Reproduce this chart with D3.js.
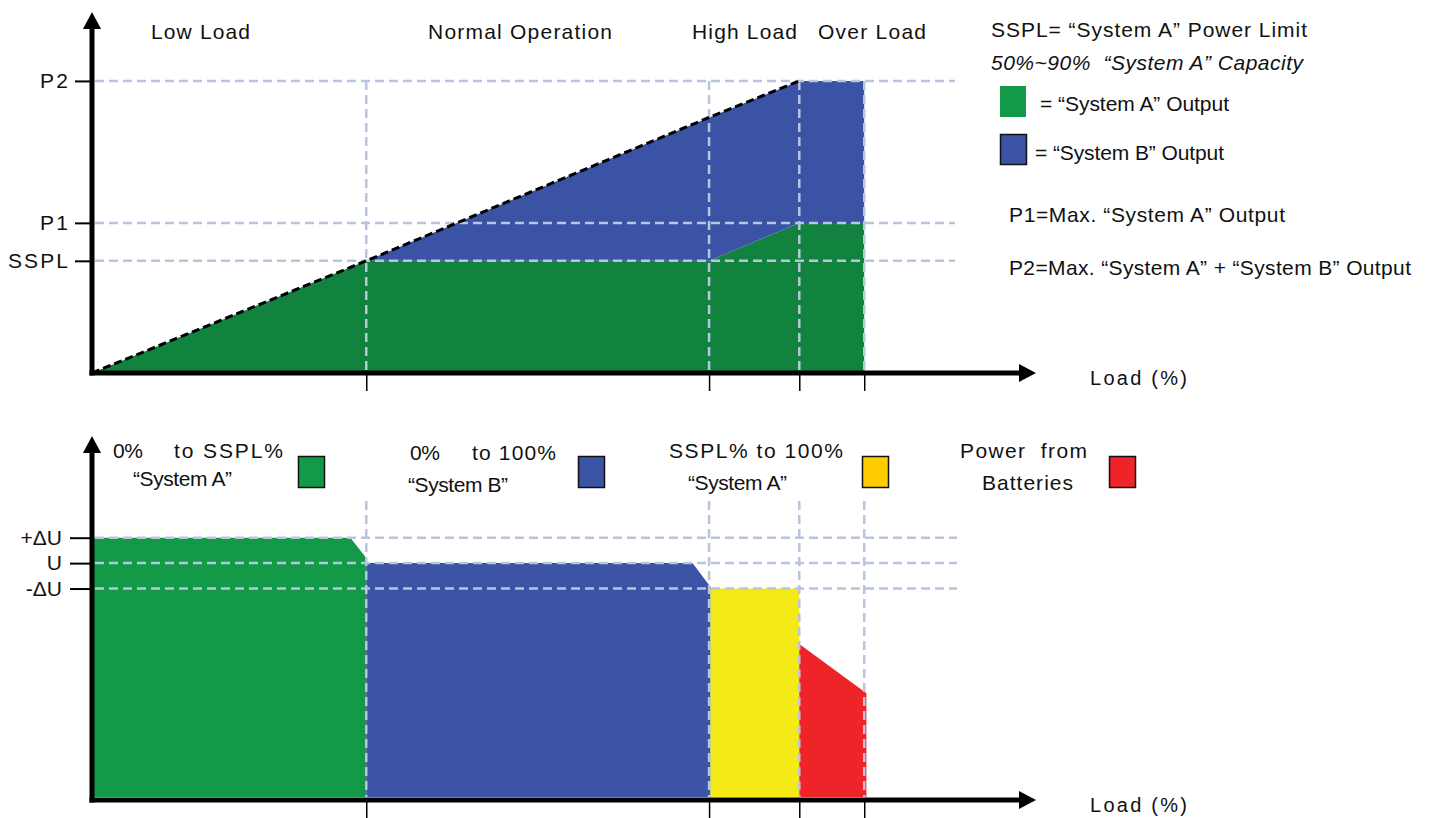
<!DOCTYPE html>
<html>
<head>
<meta charset="utf-8">
<script src="https://cdn.jsdelivr.net/npm/d3@7/dist/d3.min.js"></script>
<style>
  html, body { margin: 0; padding: 0; background: #fff; }
  svg { display: block; }
  text { font-family: "Liberation Sans", Arial, Helvetica, sans-serif; fill: #111; white-space: pre; }
</style>
</head>
<body>
<svg id="chart" width="1431" height="818"></svg>
<script>
// ---------------- DATA ----------------
// Load breakpoints (% load, arbitrary units along the x axis)
const loadBreaks   = [0, 38, 85.5, 98, 107];
// Upper chart: total demanded power and "System A" share
const totalDemand  = [0, 38.4, 87.5, 100, 100];
const systemAOut   = [0, 38.4, 38.4, 51.4, 51.4];
const powerTickVals   = [38.4, 51.4, 100];
const powerTickLabels = ["SSPL", "P1", "P2"];
const regionLabels = ["Low Load", "Normal Operation", "High Load", "Over Load"];

// Lower chart: output voltage per source
const voltSysALoad  = [0, 35.8, 38];      const voltSysA  = [105, 105, 101];
const voltSysBLoad  = [38, 83.2, 85.7];   const voltSysB  = [100, 100, 95.3];
const voltSysA2Load = [85.7, 98];         const voltSysA2 = [95, 95];
const voltBattLoad  = [98, 107.3];        const voltBatt  = [84.1, 74.4];
const voltTickVals   = [105, 100, 95];
const voltTickLabels = ["+\u0394U", "U", "-\u0394U"];

// ---------------- SETUP ----------------
const svg = d3.select("#chart");
const C = {
  gTop: "#11833f", bTop: "#3a53a4",
  gBot: "#139a48", bBot: "#3b54a5", yel: "#f5ea16", red: "#ee2428",
  yelBox: "#ffcc00", grid: "#b9c4df"
};

const x  = d3.scaleLinear().domain([0, 130.8]).range([92, 1036]);
const yT = d3.scaleLinear().domain([0, 123.6]).range([373, 12]);
const yB = d3.scaleLinear().domain([54, 125.2]).range([797, 435]);

function txt(g, xp, yp, s, w, opts = {}) {
  const t = g.append("text").attr("x", xp).attr("y", yp).text(s)
    .style("font-size", (opts.size || 21) + "px");
  if (opts.italic) t.style("font-style", "italic");
  if (opts.anchor) t.attr("text-anchor", opts.anchor);
  if (w) t.attr("textLength", w).attr("lengthAdjust", opts.adj || "spacing");
  return t;
}

function zip(xs, ys) { return xs.map((v, i) => [v, ys[i]]); }

// ================= TOP CHART =================
const gUp = svg.append("g");

// green area (System A)
gUp.append("path")
  .datum(zip(loadBreaks, systemAOut))
  .attr("fill", C.gTop)
  .attr("d", d3.area().x(d => x(d[0])).y0(yT(0)).y1(d => yT(d[1])));

// blue area (System B) between systemA and total
const blueData = loadBreaks.map((l, i) => ({ l, a: systemAOut[i], t: totalDemand[i] })).slice(1);
gUp.append("path")
  .datum(blueData)
  .attr("fill", C.bTop)
  .attr("d", d3.area().x(d => x(d.l)).y0(d => yT(d.a)).y1(d => yT(d.t)));

// gridlines
const gridStyle = s => s.attr("stroke", C.grid).attr("stroke-width", 2.5)
  .attr("stroke-dasharray", "9,5").attr("fill", "none");
powerTickVals.forEach(v => {
  gUp.append("line").attr("x1", x(0) + 3).attr("x2", 955)
    .attr("y1", yT(v)).attr("y2", yT(v)).call(gridStyle);
});
loadBreaks.slice(1).forEach(l => {
  gUp.append("line").attr("x1", x(l)).attr("x2", x(l))
    .attr("y1", yT(100)).attr("y2", yT(0)).call(gridStyle);
});

// dashed demand line
gUp.append("path")
  .datum(zip(loadBreaks.slice(0, 4), totalDemand.slice(0, 4)))
  .attr("fill", "none").attr("stroke", "#000").attr("stroke-width", 3)
  .attr("stroke-dasharray", "8,4")
  .attr("d", d3.line().x(d => x(d[0])).y(d => yT(d[1])));

// y axis ticks + labels
const yAxT = gUp.append("g").attr("transform", `translate(${x(0)},0)`)
  .call(d3.axisLeft(yT).tickValues(powerTickVals)
    .tickFormat((d, i) => powerTickLabels[i]).tickSize(17).tickPadding(7));
yAxT.select(".domain").remove();
yAxT.selectAll(".tick line").attr("stroke", "#000").attr("stroke-width", 2);
yAxT.selectAll(".tick text").style("font-size", "21px")
  .style("font-family", '"Liberation Sans", Arial, sans-serif').attr("fill", "#111")
  .attr("textLength", (d, i) => [60, 28, 28][i]).attr("lengthAdjust", "spacing");

// x ticks
const xAxT = gUp.append("g").attr("transform", `translate(0,${yT(0)})`)
  .call(d3.axisBottom(x).tickValues(loadBreaks.slice(1)).tickSize(18).tickFormat(""));
xAxT.select(".domain").remove();
xAxT.selectAll(".tick line").attr("stroke", "#000").attr("stroke-width", 1.5);

// main axes
function axesArrows(g, yZero, yTip) {
  const x0 = x(0), xe = x.range()[1];
  g.append("line").attr("x1", x0).attr("x2", x0)
    .attr("y1", yTip + 10).attr("y2", yZero + 2.5)
    .attr("stroke", "#000").attr("stroke-width", 5);
  g.append("path").attr("fill", "#000")
    .attr("d", `M${x0},${yTip} L${x0 - 9},${yTip + 17} L${x0 + 9},${yTip + 17} Z`);
  g.append("line").attr("x1", x0 - 2.5).attr("x2", xe - 10)
    .attr("y1", yZero).attr("y2", yZero)
    .attr("stroke", "#000").attr("stroke-width", 5);
  g.append("path").attr("fill", "#000")
    .attr("d", `M${xe},${yZero} L${xe - 17},${yZero - 9} L${xe - 17},${yZero + 9} Z`);
}
axesArrows(gUp, yT(0), yT.range()[1]);

// region labels
txt(gUp, 151, 39, regionLabels[0], 99);
txt(gUp, 428, 39, regionLabels[1], 184);
txt(gUp, 692, 39, regionLabels[2], 105);
txt(gUp, 818, 39, regionLabels[3], 108);
txt(gUp, 1090, 385, "Load (%)", 97, { size: 20 });

// right legend
txt(gUp, 991, 37, "SSPL= \u201CSystem A\u201D Power Limit", 316);
txt(gUp, 991, 70, "50%~90%  \u201CSystem A\u201D Capacity", 312, { italic: true });
gUp.append("rect").attr("x", 1000).attr("y", 86).attr("width", 26).attr("height", 31)
  .attr("fill", C.gBot);
txt(gUp, 1040, 111, "= \u201CSystem A\u201D Output", 189);
gUp.append("rect").attr("x", 1000.5).attr("y", 134.5).attr("width", 26).attr("height", 30)
  .attr("fill", C.bTop).attr("stroke", "#111").attr("stroke-width", 1.5);
txt(gUp, 1035, 160, "= \u201CSystem B\u201D Output", 189);
txt(gUp, 1009, 222, "P1=Max. \u201CSystem A\u201D Output", 276);
txt(gUp, 1009, 275, "P2=Max. \u201CSystem A\u201D + \u201CSystem B\u201D Output", 402);

// ================= BOTTOM CHART =================
const gLow = svg.append("g");
const vArea = d3.area().x(d => x(d[0])).y0(yB(54)).y1(d => yB(d[1]));
[[voltSysALoad, voltSysA, C.gBot],
 [voltSysBLoad, voltSysB, C.bBot],
 [voltSysA2Load, voltSysA2, C.yel],
 [voltBattLoad, voltBatt, C.red]].forEach(([xs, ys, col]) => {
  gLow.append("path").datum(zip(xs, ys)).attr("fill", col).attr("d", vArea);
});

// gridlines
voltTickVals.forEach(v => {
  gLow.append("line").attr("x1", x(0) + 3).attr("x2", 957)
    .attr("y1", yB(v)).attr("y2", yB(v)).call(gridStyle);
});
loadBreaks.slice(1).forEach(l => {
  gLow.append("line").attr("x1", x(l)).attr("x2", x(l))
    .attr("y1", 501).attr("y2", yB(54)).call(gridStyle);
});

// y ticks
const yAxB = gLow.append("g").attr("transform", `translate(${x(0)},0)`)
  .call(d3.axisLeft(yB).tickValues(voltTickVals)
    .tickFormat((d, i) => voltTickLabels[i]).tickSize(22).tickPadding(8));
yAxB.select(".domain").remove();
yAxB.selectAll(".tick line").attr("stroke", "#000").attr("stroke-width", 2);
yAxB.selectAll(".tick text").style("font-size", "21px")
  .style("font-family", '"Liberation Sans", Arial, sans-serif').attr("fill", "#111");

// x ticks
const xAxB = gLow.append("g").attr("transform", `translate(0,${yB(54) + 3})`)
  .call(d3.axisBottom(x).tickValues(loadBreaks.slice(1)).tickSize(20).tickFormat(""));
xAxB.select(".domain").remove();
xAxB.selectAll(".tick line").attr("stroke", "#000").attr("stroke-width", 1.5);

axesArrows(gLow, yB(54) + 3, 436);
txt(gLow, 1090, 812, "Load (%)", 97, { size: 20 });

// bottom legend
function box(g, bx, col) {
  g.append("rect").attr("x", bx).attr("y", 456.5).attr("width", 26).attr("height", 31)
    .attr("fill", col).attr("stroke", "#111").attr("stroke-width", 1.5);
}
txt(gLow, 113, 458, "0%", 30);
txt(gLow, 174, 458, "to SSPL%", 109);
txt(gLow, 133, 486, "\u201CSystem A\u201D", 99);
box(gLow, 298.5, C.gBot);
txt(gLow, 410, 460, "0%", 30);
txt(gLow, 472, 460, "to 100%", 84);
txt(gLow, 408, 492, "\u201CSystem B\u201D", 100);
box(gLow, 578.5, C.bBot);
txt(gLow, 669, 458, "SSPL% to 100%", 174);
txt(gLow, 688, 490, "\u201CSystem A\u201D", 99);
box(gLow, 862.5, C.yelBox);
txt(gLow, 960, 458, "Power  from", 127);
txt(gLow, 982, 490, "Batteries", 91);
box(gLow, 1109.5, C.red);
</script>
</body>
</html>
